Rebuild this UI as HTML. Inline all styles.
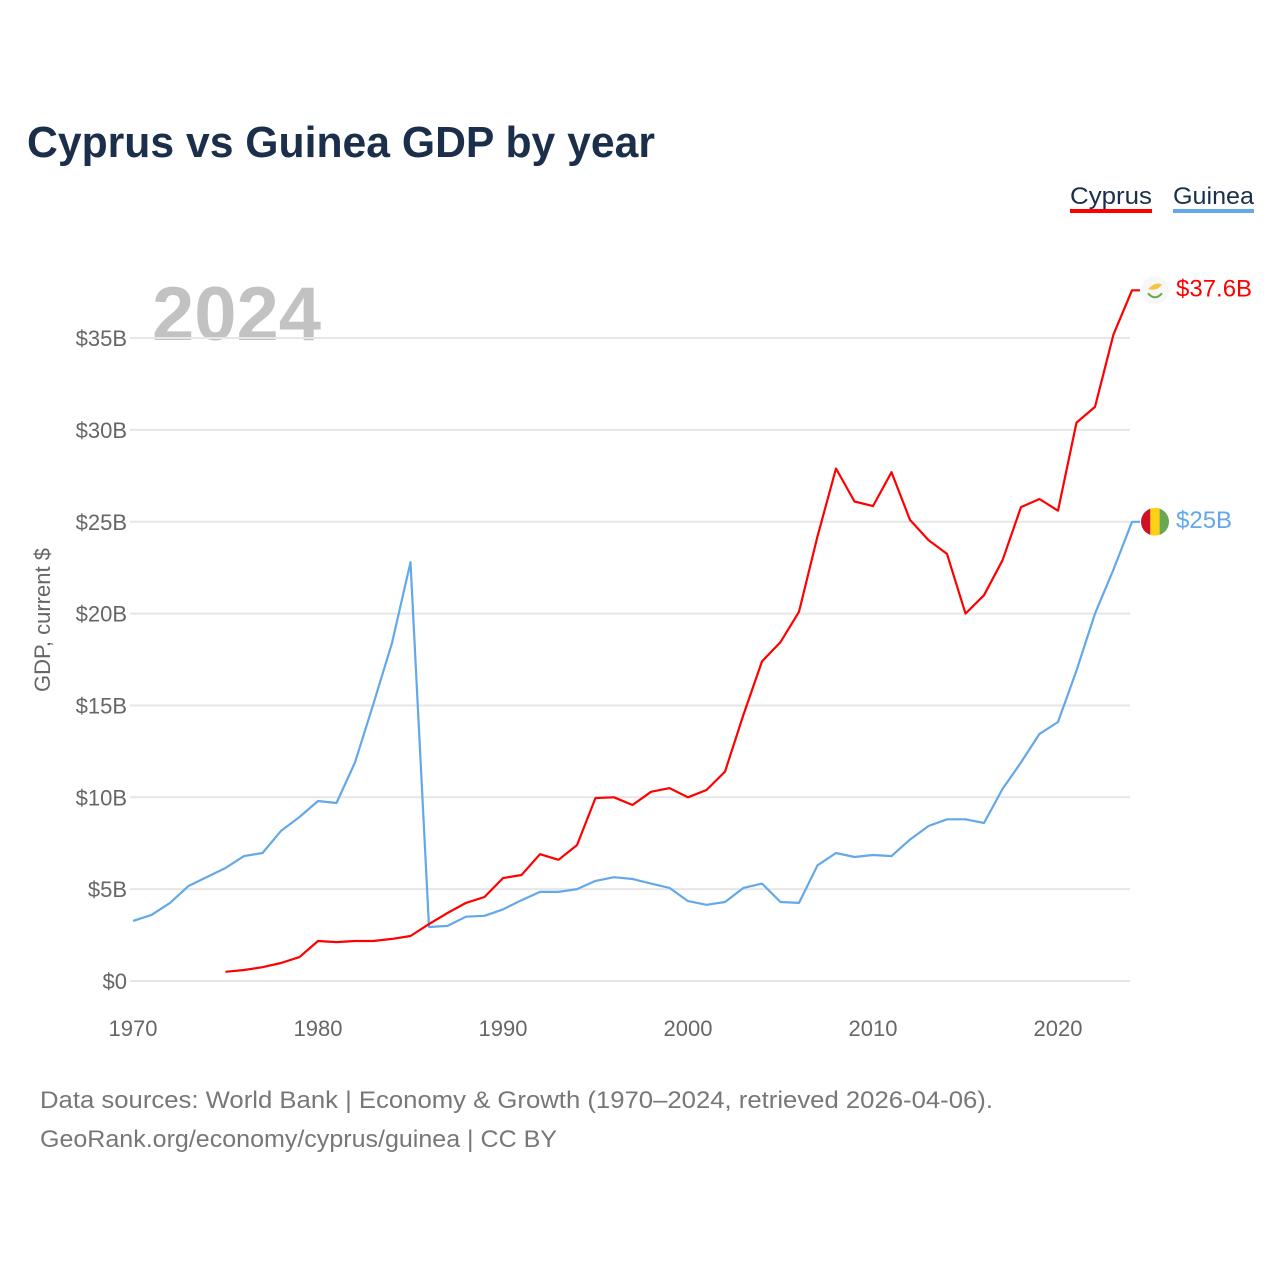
<!DOCTYPE html>
<html><head><meta charset="utf-8"><style>
body{margin:0;background:#fff;}
svg text{font-family:"Liberation Sans",sans-serif;}
</style></head><body>
<svg width="1280" height="1280" viewBox="0 0 1280 1280" xmlns="http://www.w3.org/2000/svg">
<rect width="1280" height="1280" fill="#fff"/>
<text x="27" y="157" font-size="44" font-weight="bold" fill="#1b2f4b" textLength="628" lengthAdjust="spacingAndGlyphs">Cyprus vs Guinea GDP by year</text>
<text x="152" y="340" font-size="76" font-weight="bold" fill="#c2c2c2">2024</text>
<g>
<g><text x="1070" y="204" font-size="24" fill="#1b2f4b" textLength="82" lengthAdjust="spacingAndGlyphs">Cyprus</text><rect x="1070" y="209" width="82" height="4" fill="#ff0000"/></g>
<g><text x="1173" y="204" font-size="24" fill="#1b2f4b" textLength="81" lengthAdjust="spacingAndGlyphs">Guinea</text><rect x="1173" y="209" width="81" height="4" fill="#63a8e8"/></g>
</g>
<text transform="translate(50,620) rotate(-90)" text-anchor="middle" font-size="22" fill="#666">GDP, current $</text>
<g id="grid"></g><g id="yt"></g><g id="xt"></g><g id="lines"></g><g id="ends"></g>
<text x="40" y="1108" font-size="24" fill="#777" textLength="953" lengthAdjust="spacingAndGlyphs">Data sources: World Bank | Economy &amp; Growth (1970–2024, retrieved 2026-04-06).</text>
<text x="40" y="1147" font-size="24" fill="#777" textLength="517" lengthAdjust="spacingAndGlyphs">GeoRank.org/economy/cyprus/guinea | CC BY</text>
</svg>
<script>
const guineaYears=[1970,1971,1972,1973,1974,1975,1976,1977,1978,1979,1980,1981,1982,1983,1984,1985,1986,1987,1988,1989,1990,1991,1992,1993,1994,1995,1996,1997,1998,1999,2000,2001,2002,2003,2004,2005,2006,2007,2008,2009,2010,2011,2012,2013,2014,2015,2016,2017,2018,2019,2020,2021,2022,2023,2024];
const guineaValues=[3.27,3.6,4.25,5.17,5.66,6.15,6.8,6.97,8.17,8.93,9.8,9.69,11.9,15.1,18.4,22.8,2.94,3.0,3.5,3.55,3.9,4.4,4.85,4.85,5.0,5.45,5.65,5.55,5.3,5.07,4.35,4.15,4.3,5.07,5.3,4.3,4.25,6.3,6.97,6.75,6.86,6.8,7.7,8.44,8.8,8.8,8.6,10.45,11.9,13.45,14.1,16.9,20.0,22.4,25.0];
const cyprusYears=[1975,1976,1977,1978,1979,1980,1981,1982,1983,1984,1985,1986,1987,1988,1989,1990,1991,1992,1993,1994,1995,1996,1997,1998,1999,2000,2001,2002,2003,2004,2005,2006,2007,2008,2009,2010,2011,2012,2013,2014,2015,2016,2017,2018,2019,2020,2021,2022,2023,2024];
const cyprusValues=[0.5,0.6,0.75,0.98,1.3,2.18,2.12,2.18,2.18,2.29,2.45,3.1,3.7,4.25,4.57,5.6,5.77,6.9,6.6,7.4,9.96,10.0,9.58,10.3,10.5,10.0,10.4,11.4,14.5,17.4,18.45,20.1,24.2,27.9,26.1,25.85,27.7,25.1,24.0,23.25,20.0,21.0,22.9,25.8,26.24,25.6,30.4,31.25,35.2,37.6];
const yTicks=[0,5,10,15,20,25,30,35];
const yTickLabels=["$0","$5B","$10B","$15B","$20B","$25B","$30B","$35B"];
const xTicks=[1970,1980,1990,2000,2010,2020];
const endLabels=["$37.6B","$25B"];
const NS="http://www.w3.org/2000/svg";
const X=y=>133+(y-1970)*18.5, Y=v=>981-v*18.37;
function mk(t,a,p){const e=document.createElementNS(NS,t);for(const k in a)e.setAttribute(k,a[k]);document.getElementById(p).appendChild(e);return e;}
yTicks.forEach((v,i)=>{
 const l=mk('line',{x1:130,x2:1130,y1:Y(v),y2:Y(v),stroke:'#e6e6e6','stroke-width':2},'grid');
 
 
 const t=mk('text',{x:127,y:Y(v)+8,'text-anchor':'end','font-size':22,fill:'#666'},'yt');t.textContent=yTickLabels[i];
 
 
});
xTicks.forEach(y=>{
 const t=mk('text',{x:X(y),y:1036,'text-anchor':'middle','font-size':22,fill:'#666'},'xt');t.textContent=y;
 
 
});
function line(ys,vs,c,n){
 const d=ys.map((y,i)=>(i?'L':'M')+X(y).toFixed(1)+','+Y(vs[i]).toFixed(1)).join('')+'h8';
 const p=mk('path',{d:d,fill:'none',stroke:c,'stroke-width':2.2,'stroke-linejoin':'round'},'lines');
 
 
}
line(guineaYears,guineaValues,'#63a8e8','guinea-line');
line(cyprusYears,cyprusValues,'#ff0000','cyprus-line');
const cy=Y(cyprusValues[cyprusValues.length-1]), gy=Y(guineaValues[guineaValues.length-1]);
const fc=mk('circle',{cx:1155,cy:cy,r:14,fill:'#f7f7f7'},'ends');


mk('path',{d:`M1148,${cy-1} q7,-8 14,-5 q-4,7 -14,5z`,fill:'#f5c542'},'ends');
mk('path',{d:`M1148,${cy+3} q7,8 14,0`,fill:'none',stroke:'#6aa84f','stroke-width':2},'ends');
const gf=mk('g',{},'ends');


const cp=mk('clipPath',{id:'gc'},'ends');const cc=document.createElementNS(NS,'circle');cc.setAttribute('cx',1155);cc.setAttribute('cy',gy);cc.setAttribute('r',14);cp.appendChild(cc);
[['#ce1126',1141],['#fcd116',1150.3],['#6aa84f',1159.6]].forEach(([c,x])=>{const r=document.createElementNS(NS,'rect');r.setAttribute('x',x);r.setAttribute('y',gy-14);r.setAttribute('width',9.4);r.setAttribute('height',28);r.setAttribute('fill',c);r.setAttribute('clip-path','url(#gc)');gf.appendChild(r);});
const t1=mk('text',{x:1176,y:cy+6,'font-size':24,fill:'#ff0000'},'ends');t1.textContent=endLabels[0];


const t2=mk('text',{x:1176,y:gy+6,'font-size':24,fill:'#63a8e8'},'ends');t2.textContent=endLabels[1];


</script>
</body></html>
